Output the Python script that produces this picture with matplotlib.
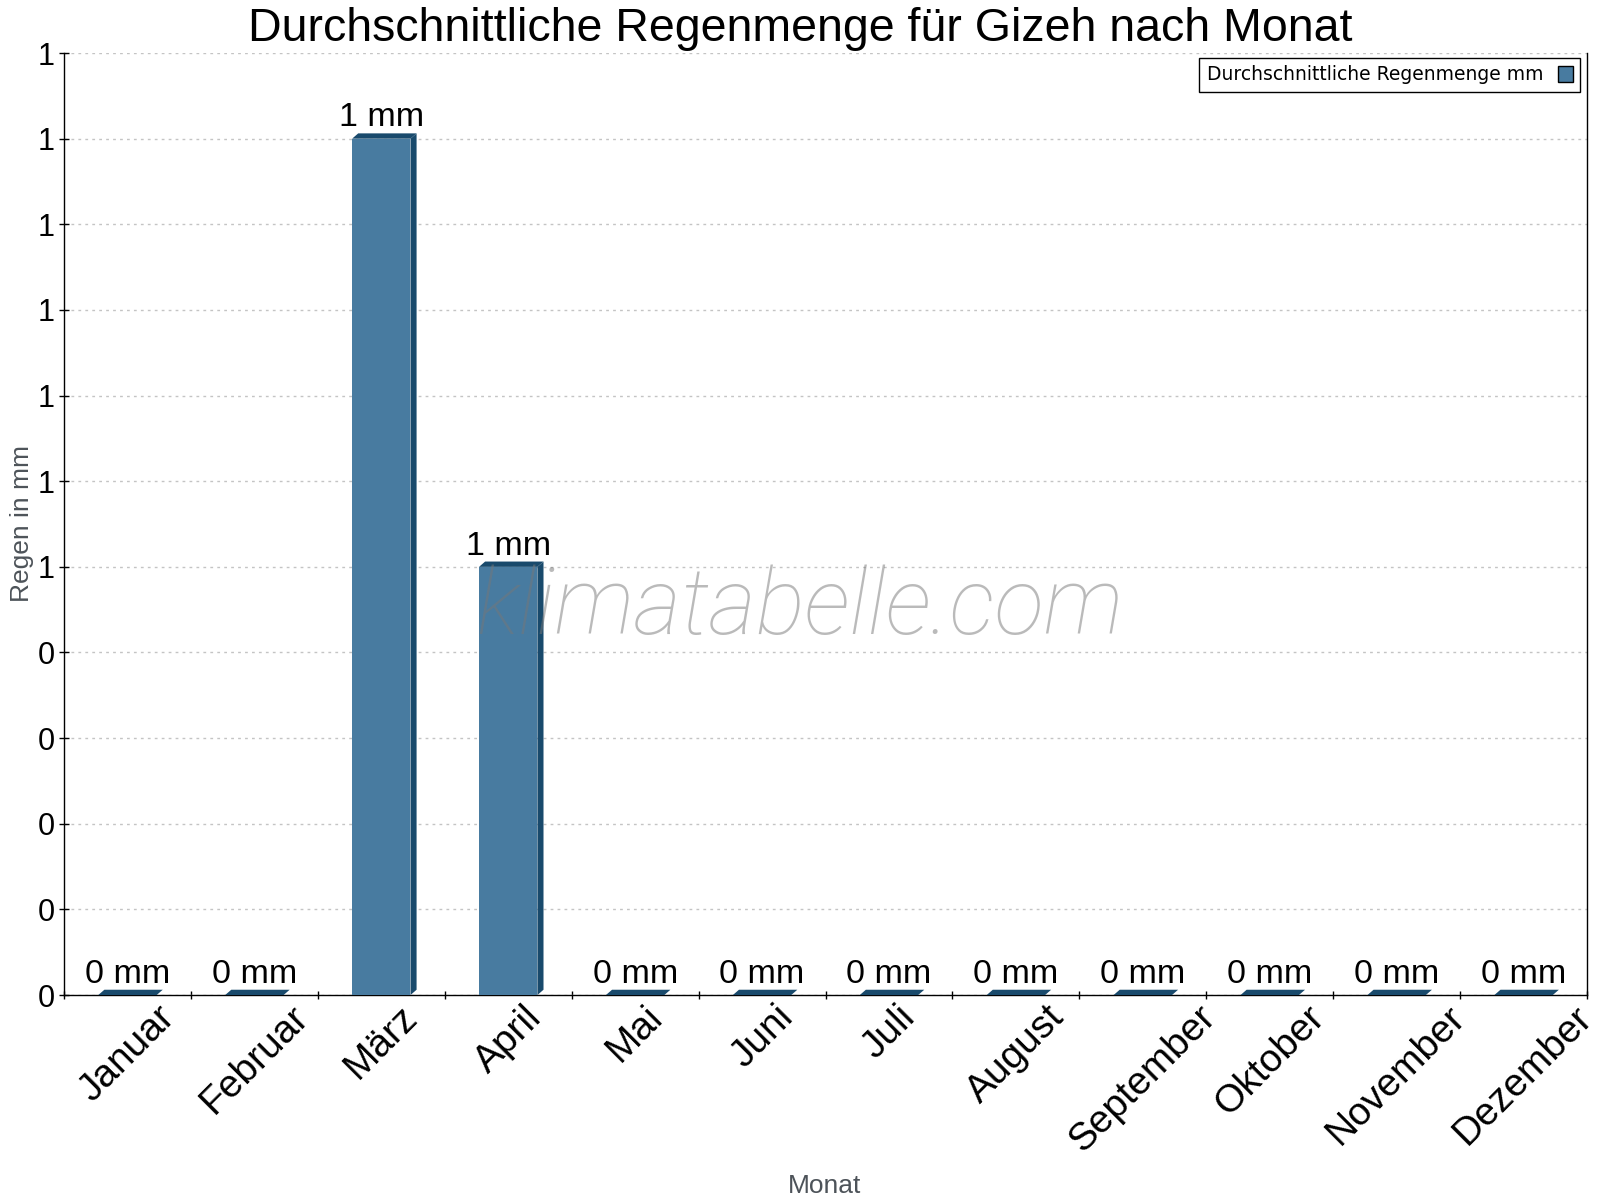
import numpy as np
import matplotlib
matplotlib.use("Agg")
import matplotlib.pyplot as plt
from matplotlib.patches import Polygon, Patch

plt.rcParams['font.family'] = ['Liberation Sans', 'DejaVu Sans']

# Daten
monate = ["Januar", "Februar", "März", "April", "Mai", "Juni", "Juli",
          "August", "September", "Oktober", "November", "Dezember"]
regen = [0, 0, 1.0, 0.5, 0, 0, 0, 0, 0, 0, 0, 0]
y_ticks = [0, 0.1, 0.2, 0.3, 0.4, 0.5, 0.6, 0.7, 0.8, 0.9, 1.0, 1.1]
y_tick_labels = ["0", "0", "0", "0", "0", "1", "1", "1", "1", "1", "1", "1"]

titel = "Durchschnittliche Regenmenge für Gizeh nach Monat"
legende = "Durchschnittliche Regenmenge mm"

# Farben
farbe_vorne = "#487ba0"
farbe_dunkel = "#194a6c"

fig = plt.figure(figsize=(16, 12), dpi=100)
ax = fig.add_axes([0.04, 0.1708, 0.9519, 0.785])

x = np.arange(len(monate))
breite = 0.46
tiefe_x = 0.048   # 3D-Tiefe in Kategorie-Einheiten
tiefe_y = 0.0062  # 3D-Tiefe in mm

ax.bar(x, regen, width=breite, color=farbe_vorne, zorder=3)

# Seitenflaeche und Deckel fuer den 3D-Effekt
for xi, v in zip(x, regen):
    links = xi - breite / 2
    rechts = xi + breite / 2
    seite = Polygon([(rechts, 0), (rechts + tiefe_x, tiefe_y),
                     (rechts + tiefe_x, v + tiefe_y), (rechts, v)],
                    closed=True, facecolor=farbe_dunkel, edgecolor="none",
                    zorder=3, clip_on=False)
    deckel = Polygon([(links, v), (rechts, v), (rechts + tiefe_x, v + tiefe_y),
                      (links + tiefe_x, v + tiefe_y)],
                     closed=True, facecolor=farbe_dunkel, edgecolor="none",
                     zorder=3, clip_on=False)
    ax.add_patch(seite)
    ax.add_patch(deckel)
    ax.annotate(f"{int(np.floor(v + 0.5))} mm", (xi, v + tiefe_y),
                xytext=(0, 5), textcoords="offset points",
                ha="center", va="baseline", fontsize=24.5, color="black", zorder=4)

ax.set_xlim(-0.5, len(monate) - 0.5)
ax.set_ylim(0, 1.1)

# x-Achse: Striche an den Grenzen, Beschriftung in der Mitte
ax.set_xticks(np.arange(-0.5, len(monate), 1.0))
ax.set_xticklabels([])
ax.set_xticks(x, minor=True)
ax.set_xticklabels(monate, minor=True, rotation=45, ha="center", va="top", fontsize=28)
ax.tick_params(axis="x", which="major", direction="inout", length=6, width=1, color="black")
ax.tick_params(axis="x", which="minor", length=0, pad=3)

ax.set_yticks(y_ticks)
ax.set_yticklabels(y_tick_labels, fontsize=22)
ax.tick_params(axis="y", direction="inout", length=7, width=1, color="black", pad=3)

ax.grid(axis="y", linestyle=(0, (2, 3)), color="#c4c4c4", linewidth=1, zorder=0)
ax.set_axisbelow(True)

ax.spines["top"].set_visible(False)
for s in ["left", "bottom", "right"]:
    ax.spines[s].set_color("black")
    ax.spines[s].set_linewidth(1)

fig.text(0.5, 1 - 41 / 1200, titel, ha="center", va="baseline", fontsize=33.5, color="black")
fig.text(825 / 1600, 1 - 1193 / 1200, "Monat", ha="center", va="baseline",
         fontsize=19, color="#4d5359")
fig.text(22 / 1600, 1 - 524 / 1200, "Regen in mm", ha="center", va="center",
         rotation=90, fontsize=19, color="#4d5359")

leg = ax.legend(handles=[Patch(facecolor=farbe_vorne, edgecolor="black", linewidth=1, label=legende)],
                loc="upper right", bbox_to_anchor=(1580 / 1600, 1 - 58 / 1200),
                bbox_transform=fig.transFigure, markerfirst=False, fancybox=False,
                framealpha=1, edgecolor="black", borderpad=0.4, handlelength=0.75,
                handleheight=1.0, handletextpad=0.8, borderaxespad=0,
                prop={"family": "DejaVu Sans", "size": 13.5})
leg.get_frame().set_linewidth(1)

fig.text(0.5, 1 - 634 / 1200, "klimatabelle.com", ha="center", va="baseline",
         fontfamily="Roboto", fontstyle="italic", fontweight="light", fontsize=66,
         color="#777777", alpha=0.5, zorder=5)

plt.savefig("out.png", dpi=100)
